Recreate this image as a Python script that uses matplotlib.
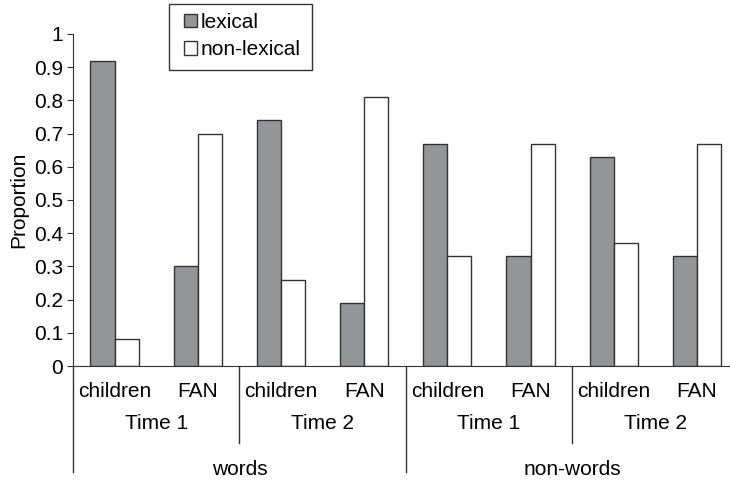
import matplotlib.pyplot as plt
import matplotlib.patches as mpatches
import numpy as np

plt.rcParams['font.family'] = ['Liberation Sans', 'DejaVu Sans']

groups = ['children', 'FAN', 'children', 'FAN', 'children', 'FAN', 'children', 'FAN']
times = ['Time 1', 'Time 2', 'Time 1', 'Time 2']
stimuli = ['words', 'non-words']
lexical = [0.92, 0.30, 0.74, 0.19, 0.67, 0.33, 0.63, 0.33]
non_lexical = [0.08, 0.70, 0.26, 0.81, 0.33, 0.67, 0.37, 0.67]

fs = 15

fig = plt.figure(figsize=(7.3, 4.84), dpi=100)
ax = fig.add_axes([0.100, 0.2438, 0.9117, 0.686])

x = np.arange(len(groups))
w = 0.29
ax.bar(x - w / 2, lexical, w, color='#939598', edgecolor='#333333', linewidth=1, label='lexical')
ax.bar(x + w / 2, non_lexical, w, color='white', edgecolor='#333333', linewidth=1, label='non-lexical')

ax.set_xlim(-0.5, 7.5)
ax.set_ylim(0, 1)
ax.set_yticks(np.arange(0, 1.01, 0.1))
ax.set_yticklabels(['0', '0.1', '0.2', '0.3', '0.4', '0.5', '0.6', '0.7', '0.8', '0.9', '1'])
ax.tick_params(axis='y', labelsize=fs, length=4, color='#333333', pad=3)
ax.set_xticks([])
ax.set_ylabel('Proportion', fontsize=fs, labelpad=4)

for s in ['top', 'right']:
    ax.spines[s].set_visible(False)
ax.spines['left'].set_color('#333333')
ax.spines['bottom'].set_color('#333333')

trans = ax.get_xaxis_transform()
# separator lines below the axis
for b, low in [(-0.5, -0.319), (1.5, -0.232), (3.5, -0.319), (5.5, -0.232)]:
    ax.plot([b, b], [0, low], color='#333333', lw=1, transform=trans, clip_on=False)

for i, g in enumerate(groups):
    ax.text(i, -0.078, g, transform=trans, ha='center', va='center', fontsize=fs)
for i, t in enumerate(times):
    ax.text(2 * i + 0.5, -0.172, t, transform=trans, ha='center', va='center', fontsize=fs)
for i, s in enumerate(stimuli):
    ax.text(4 * i + 1.5, -0.313, s, transform=trans, ha='center', va='center', fontsize=fs)

# legend box drawn separately so the padding can be wider than tall
box = mpatches.Rectangle((169 / 730, 1 - 70 / 484), 143 / 730, 66 / 484,
                         transform=fig.transFigure, facecolor='white',
                         edgecolor='#333333', linewidth=1, zorder=5, clip_on=False)
ax.add_patch(box)
leg = ax.legend(loc='upper left', bbox_to_anchor=(184 / 730, 1 - 13 / 484),
                bbox_transform=fig.transFigure, fontsize=fs, frameon=False,
                handlelength=0.6, handleheight=0.6,
                handletextpad=0.2, borderpad=0, labelspacing=0.4,
                borderaxespad=0)
leg.set_zorder(6)

fig.savefig('out.png', dpi=100)
